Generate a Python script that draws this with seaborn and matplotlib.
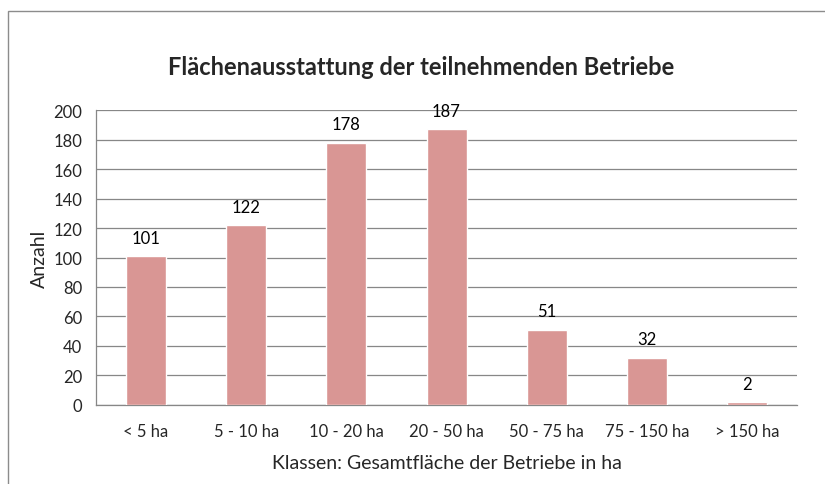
import matplotlib
matplotlib.use("Agg")
import matplotlib.pyplot as plt
import seaborn as sns
import pandas as pd
from matplotlib.patches import Rectangle

klassen = ["< 5 ha", "5 - 10 ha", "10 - 20 ha", "20 - 50 ha", "50 - 75 ha", "75 - 150 ha", "> 150 ha"]
anzahl = [101, 122, 178, 187, 51, 32, 2]

df = pd.DataFrame({"Klasse": klassen, "Anzahl": anzahl})

sns.set_style("white")
plt.rcParams["font.family"] = ["Lato", "DejaVu Sans"]

fig = plt.figure(figsize=(8.25, 4.85), dpi=100)
ax = fig.add_axes([0.1164, 0.163, 0.8497, 0.608])

sns.barplot(data=df, x="Klasse", y="Anzahl", color="#D99694", width=0.4,
            saturation=1, ax=ax, zorder=3)

for i, v in enumerate(anzahl):
    ax.text(i, v + 7, str(v), ha="center", va="bottom", fontsize=12, color="black")

ax.set_ylim(0, 200)
ax.set_xlim(-0.5, len(klassen) - 0.5)
ax.set_yticks(range(0, 201, 20))
ax.yaxis.grid(True, color="#878787", linewidth=0.9, zorder=0)
ax.set_axisbelow(True)
for s in ["top", "right"]:
    ax.spines[s].set_visible(False)
for s in ["left", "bottom"]:
    ax.spines[s].set_color("#878787")
    ax.spines[s].set_linewidth(0.9)

# x ticks at category boundaries, labels centered
ax.set_xticks([i - 0.5 for i in range(len(klassen) + 1)])
ax.set_xticklabels([])
ax.set_xticks(range(len(klassen)), minor=True)
ax.set_xticklabels(klassen, minor=True, fontsize=12)
ax.tick_params(axis="x", which="major", length=5, color="#878787", direction="out")
ax.tick_params(axis="x", which="minor", length=0, pad=13)
ax.tick_params(axis="y", length=5, color="#878787", direction="out", labelsize=12, pad=5)

ax.set_xlabel("Klassen: Gesamtfläche der Betriebe in ha", fontsize=14, labelpad=11)
ax.set_ylabel("Anzahl", fontsize=14, labelpad=4)

fig.text(0.51, 0.86, "Flächenausstattung der teilnehmenden Betriebe",
         ha="center", va="center", fontsize=17, fontweight="bold")

fig.patches.append(Rectangle((0.0097, -0.1), 1.2, 1.075, transform=fig.transFigure,
                             fill=False, edgecolor="#8c8c8c", linewidth=1.0))

fig.savefig("out.png", dpi=100)
